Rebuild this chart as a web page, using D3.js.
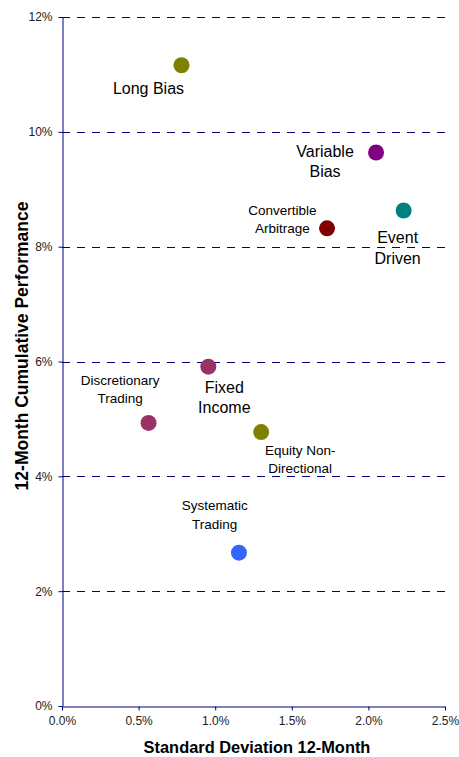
<!DOCTYPE html>
<html>
<head>
<meta charset="utf-8">
<script src="https://cdn.jsdelivr.net/npm/d3@7"></script>
<style>
  body { margin: 0; background: #fff; }
  svg { font-family: Arial, "Liberation Sans", sans-serif; }
  .tick text { fill: #222; font-size: 12px; }
  .axisTitle { font-weight: bold; fill: #000; }
</style>
</head>
<body>
<svg id="chart"></svg>
<script>
// strategy data: std dev (x, %) vs cumulative performance (y, %)
var strategies = ['Long Bias', 'Variable Bias', 'Event Driven', 'Convertible Arbitrage',
                  'Fixed Income', 'Discretionary Trading', 'Equity Non-Directional', 'Systematic Trading'];
var stdDev     = [0.78, 2.05, 2.23, 1.73, 0.955, 0.565, 1.30, 1.155];
var cumPerf    = [11.16, 9.64, 8.63, 8.32, 5.91, 4.93, 4.77, 2.67];
var xTicks     = [0, 0.5, 1.0, 1.5, 2.0, 2.5];
var yTicks     = [0, 2, 4, 6, 8, 10, 12];

// label layout (pixel offsets from the marker, lines of text, size)
var labelLines = [['Long Bias'], ['Variable', 'Bias'], ['Event', 'Driven'], ['Convertible', 'Arbitrage'],
                  ['Fixed', 'Income'], ['Discretionary', 'Trading'], ['Equity Non-', 'Directional'], ['Systematic', 'Trading']];
var labelDx    = [-33, -51, -6, -44.6, 16, -28.5, 39, -24.3];
var labelDy    = [29, 4.6, 32.6, -13, 26.6, -37.7, 22.7, -42.4];
var labelGap   = [0, 20, 20.7, 18, 20, 18, 17.7, 18.7];
var labelSize  = [16, 16, 16, 13.5, 16, 13.5, 13.5, 13.5];
var colors     = ['#808000', '#800080', '#008080', '#800000', '#993366', '#993366', '#808000', '#3366ff'];

var width = 459, height = 757;
var plotLeft = 62, plotRight = 445, plotTop = 17, plotBottom = 706;

var svg = d3.select('#chart').attr('width', width).attr('height', height);

var x = d3.scaleLinear().domain([0, 2.5]).range([plotLeft, plotRight]);
var y = d3.scaleLinear().domain([0, 12]).range([plotBottom, plotTop]);

// dashed gridlines (snapped to whole pixels so they stay crisp)
svg.append('g')
    .selectAll('line')
    .data(yTicks.filter(d => d > 0))
    .enter().append('line')
    .attr('x1', plotLeft).attr('x2', plotRight)
    .attr('y1', d => Math.round(y(d)) + 0.5).attr('y2', d => Math.round(y(d)) + 0.5)
    .attr('stroke', '#000080')
    .attr('stroke-dasharray', '8,7');

// axes
var xAxis = d3.axisBottom(x).tickValues(xTicks).tickSize(4).tickSizeOuter(0)
    .tickFormat(d => d.toFixed(1) + '%');
var yAxis = d3.axisLeft(y).tickValues(yTicks).tickSize(4).tickSizeOuter(0)
    .tickFormat(d => d + '%');

var xg = svg.append('g').attr('transform', `translate(0,${plotBottom + 0.5})`).call(xAxis);
var yg = svg.append('g').attr('transform', `translate(${plotLeft + 0.5},0)`).call(yAxis);

[xg, yg].forEach(function(g){
    g.select('.domain').attr('stroke', '#000080');
    g.selectAll('.tick line').attr('stroke', '#000080');
    g.attr('font-family', null).attr('font-size', null);
});
xg.selectAll('.tick text').attr('y', 10);
yg.selectAll('.tick text').attr('x', -10);

// axis titles
svg.append('text')
    .attr('class', 'axisTitle')
    .attr('text-anchor', 'middle')
    .style('font-size', '16.4px')
    .attr('x', 257).attr('y', 753)
    .text('Standard Deviation 12-Month');

svg.append('text')
    .attr('class', 'axisTitle')
    .attr('text-anchor', 'middle')
    .style('font-size', '17.5px')
    .attr('transform', 'translate(28,346) rotate(-90)')
    .text('12-Month Cumulative Performance');

// markers
svg.append('g')
    .selectAll('circle')
    .data(strategies)
    .enter().append('circle')
    .attr('cx', (d, i) => x(stdDev[i]))
    .attr('cy', (d, i) => y(cumPerf[i]))
    .attr('r', 8)
    .attr('fill', (d, i) => colors[i]);

// labels
var labels = svg.append('g')
    .selectAll('text')
    .data(strategies)
    .enter().append('text')
    .attr('text-anchor', 'middle')
    .attr('fill', '#000')
    .style('font-size', (d, i) => labelSize[i] + 'px');

labels.each(function(d, i){
    var px = x(stdDev[i]) + labelDx[i];
    var py = y(cumPerf[i]) + labelDy[i];
    var t = d3.select(this);
    labelLines[i].forEach(function(line, j){
        t.append('tspan')
            .attr('x', px)
            .attr('y', py + j * labelGap[i])
            .text(line);
    });
});
</script>
</body>
</html>
